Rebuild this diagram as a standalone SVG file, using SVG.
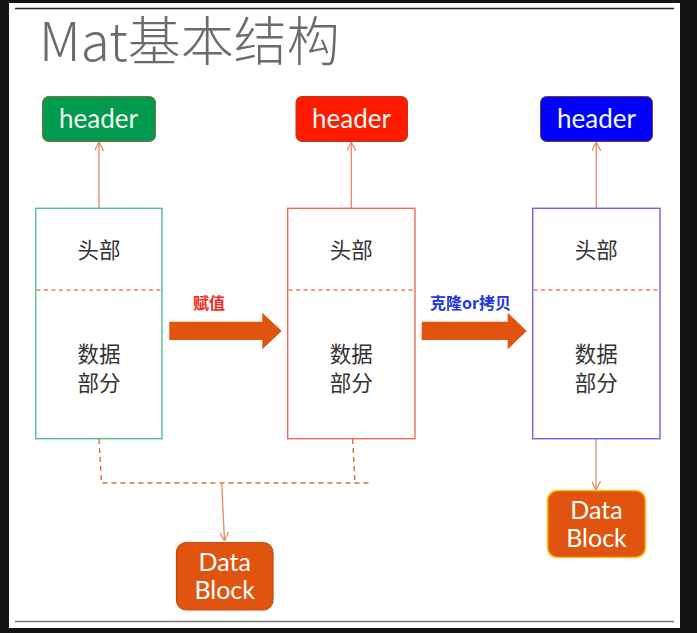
<svg xmlns="http://www.w3.org/2000/svg" width="697" height="633" viewBox="0 0 697 633">
<style>
.title{font-family:"Noto Sans CJK SC","Noto Sans",sans-serif;font-size:53px;font-weight:300;fill:#6e6a69}
.hdr{font-family:Lato,"Noto Sans",sans-serif;font-size:26px;fill:#f2f8f2;text-anchor:middle}
.cn{font-family:"Noto Sans CJK SC",sans-serif;font-size:21.5px;fill:#333;text-anchor:middle}
.db{font-family:Lato,"Noto Sans",sans-serif;font-size:25px;fill:#fff;text-anchor:middle}
.lbl{font-family:"Noto Sans CJK SC",sans-serif;font-size:16px;font-weight:bold}
.conn{stroke:#e48a64;stroke-width:1.3;fill:none}
.dash{stroke:#d8703e;stroke-width:1.4;fill:none;stroke-dasharray:5 4}
.div{stroke:#f47a66;stroke-width:1.3;stroke-dasharray:4 3.5}
.big{fill:#e0540f}
</style>
<defs>
<marker id="ah" viewBox="0 0 10 10" refX="10" refY="5" markerWidth="9" markerHeight="9" markerUnits="userSpaceOnUse" orient="auto">
<path d="M0,0 L10,5 L0,10" fill="none" stroke="#e48a64" stroke-width="1.4"/>
</marker>
</defs>
<rect width="697" height="633" fill="#141414"/>
<rect x="9" y="3" width="671" height="625" fill="#fff"/>
<line x1="15" y1="8.5" x2="674" y2="8.5" stroke="#222" stroke-width="1.3"/>
<line x1="15" y1="621.5" x2="674" y2="621.5" stroke="#777" stroke-width="1.6"/>
<text class="title" x="39" y="61">Mat基本结构</text>

<g id="connectors">
<line class="conn" x1="99" y1="208" x2="99" y2="142" marker-end="url(#ah)"/>
<line class="conn" x1="351.3" y1="208" x2="351.3" y2="142" marker-end="url(#ah)"/>
<line class="conn" x1="596.3" y1="208" x2="596.3" y2="142" marker-end="url(#ah)"/>
<polyline class="dash" points="99,439 101.5,483 370,483"/>
<polyline class="dash" points="352.7,439 355,483"/>
<line class="conn" x1="221.7" y1="483" x2="224.5" y2="541" marker-end="url(#ah)"/>
<line class="conn" x1="596" y1="439" x2="596" y2="490" marker-end="url(#ah)"/>
<polygon class="big" points="169.3,321.7 262.3,321.7 262.3,312.7 281.7,331 262.3,349.3 262.3,340 169.3,340"/>
<polygon class="big" points="421.7,321.7 507.7,321.7 507.7,312.7 526.7,331 507.7,349.3 507.7,340 421.7,340"/>
<text class="lbl" x="193" y="309" fill="#f8281a">赋值</text>
<text class="lbl" x="430" y="309" fill="#2236dc">克隆or拷贝</text>
</g>

<g id="header1">
<rect x="42.5" y="96.5" width="113" height="45" rx="6" fill="#019a4f" stroke="#8a6a3c" stroke-width="1"/>
<text class="hdr" x="98.5" y="128">header</text>
</g>
<g id="header2">
<rect x="296" y="96.5" width="111.5" height="45" rx="6" fill="#fe1b00" stroke="#b03a20" stroke-width="1"/>
<text class="hdr" x="351.5" y="128">header</text>
</g>
<g id="header3">
<rect x="540.5" y="96.5" width="112" height="45" rx="6" fill="#0000fe" stroke="#7a3a3a" stroke-width="1"/>
<text class="hdr" x="596.5" y="128">header</text>
</g>

<g id="mat1">
<rect x="35.7" y="208.3" width="126.3" height="230.4" fill="#fff" stroke="#52c08a" stroke-width="1.4"/>
<line class="div" x1="36.5" y1="290" x2="161.5" y2="290"/>
<text class="cn" x="99" y="258">头部</text>
<text class="cn" x="99" y="362">数据</text>
<text class="cn" x="99" y="391">部分</text>
</g>
<g id="mat2">
<rect x="287.7" y="208.3" width="127.3" height="230.4" fill="#fff" stroke="#f26a55" stroke-width="1.4"/>
<line class="div" x1="288.5" y1="290" x2="414.5" y2="290"/>
<text class="cn" x="351.3" y="258">头部</text>
<text class="cn" x="351.3" y="362">数据</text>
<text class="cn" x="351.3" y="391">部分</text>
</g>
<g id="mat3">
<rect x="532.7" y="208.3" width="127.3" height="230.4" fill="#fff" stroke="#6666e6" stroke-width="1.4"/>
<line class="div" x1="533.5" y1="290" x2="659.5" y2="290"/>
<text class="cn" x="596.3" y="258">头部</text>
<text class="cn" x="596.3" y="362">数据</text>
<text class="cn" x="596.3" y="391">部分</text>
</g>

<g id="datablock1">
<rect x="176.5" y="542.5" width="96.5" height="67.5" rx="10" fill="#e0540f" stroke="#c84a12" stroke-width="1.2"/>
<text class="db" x="224.7" y="570.5">Data</text>
<text class="db" x="224.7" y="599">Block</text>
</g>
<g id="datablock2">
<rect x="547.5" y="490.5" width="98" height="67" rx="10" fill="#e0540f" stroke="#ffc21a" stroke-width="1.6"/>
<text class="db" x="596.5" y="519">Data</text>
<text class="db" x="596.5" y="546.5">Block</text>
</g>
</svg>
